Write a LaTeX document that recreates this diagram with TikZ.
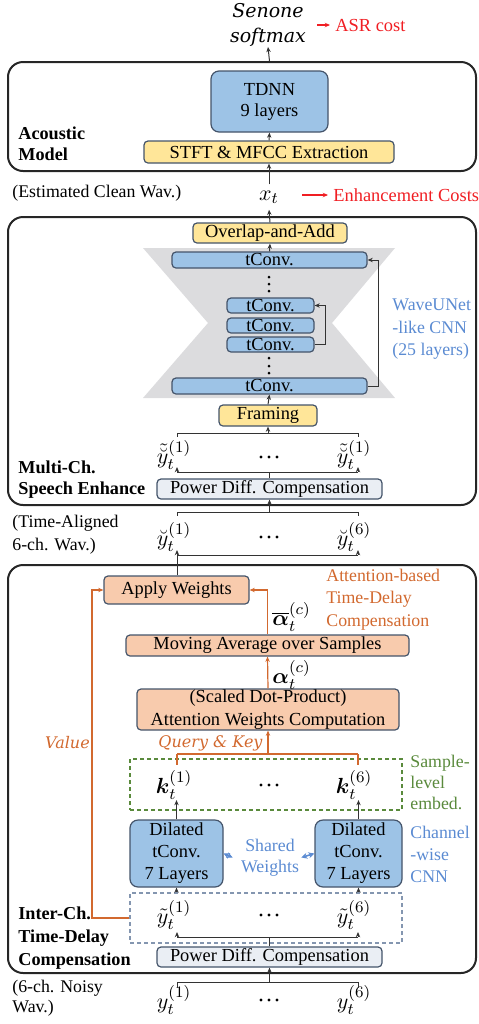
\documentclass[tikz,border=0pt]{standalone}
\usepackage{amsmath,amssymb}
\usepackage{fontspec}
\setmainfont{Liberation Serif}
\newfontfamily\mitfont{DejaVu Serif}
\usepackage{tikz}
\usetikzlibrary{arrows.meta,positioning,calc}
\definecolor{mblue}{HTML}{9DC3E6}
\definecolor{myellow}{HTML}{FFE699}
\definecolor{msalmon}{HTML}{F8CBAD}
\definecolor{mpale}{HTML}{EAEEF4}
\definecolor{mgray}{HTML}{DCDCDE}
\definecolor{medge}{HTML}{44546A}
\definecolor{mtblue}{HTML}{5B8BD2}
\definecolor{morange}{HTML}{D2692F}
\definecolor{mgreen}{HTML}{5A8A3C}
\definecolor{mred}{HTML}{F01E23}
\definecolor{mdash}{HTML}{8496B0}
\newcommand\fs{\fontsize{9.2}{11}\selectfont}
\tikzset{
  blk/.style={draw=medge,line width=0.6pt,rounded corners=2pt,align=center,font=\fs,inner sep=0pt},
  bluebox/.style={blk,fill=mblue},
  yelbox/.style={blk,fill=myellow},
  salbox/.style={blk,fill=msalmon},
  palebox/.style={blk,fill=mpale},
  region/.style={draw=black!85,line width=1pt,rounded corners=7.5pt,inner sep=0pt},
  embbox/.style={draw=#1,line width=0.6pt,dash pattern=on 2pt off 1.5pt,inner sep=0pt},
  wire/.style={line width=0.5pt,draw=black!80},
  arr/.style={-{Stealth[length=2.6pt,width=2.2pt]},line width=0.5pt,draw=black!80},
  owire/.style={line width=0.6pt,draw=morange},
  oarr/.style={-{Stealth[length=2.6pt,width=2.2pt]},line width=0.6pt,draw=morange},
  rarr/.style={-{Stealth[length=2.6pt,width=2.2pt]},line width=0.6pt,draw=mred,shorten >=2.5pt},
  barr/.style={{Stealth[length=3pt,width=3pt]}-{Stealth[length=3pt,width=3pt]},line width=0.8pt,draw=mtblue},
  sect/.style={anchor=west,align=left,font=\fontsize{9.1}{10.5}\selectfont\bfseries,inner sep=0pt},
  note/.style={anchor=west,align=left,font=\fontsize{8.9}{11.25}\selectfont,inner sep=0pt},
  ml/.style={font=\fontsize{11}{12}\selectfont,inner sep=0pt},
  mit/.style={font=\mitfont\itshape\fontsize{9.5}{12.5}\selectfont,inner sep=0pt,align=center},
}
\begin{document}
\begin{tikzpicture}[x=0.5pt,y=-0.5pt]
  \useasboundingbox (0,0) rectangle (478,1024);

  % three stages
  \node[region,minimum width=234pt,minimum height=54.5pt] (am) at (242,116.5) {};
  \node[region,minimum width=234pt,minimum height=144pt] (se) at (242,361) {};
  \node[region,minimum width=234pt,minimum height=204pt] (tdc) at (242,769) {};

  % acoustic model
  \node[mit] (senone) at (268,25) {Senone\\softmax};
  \node[anchor=west,font=\fs,text=mred,inner sep=0pt] (asr) at (335,25) {ASR cost};
  \coordinate (asrt) at (317,25);
  \draw[rarr] (asrt) -- (asr.west);
  \node[bluebox,rounded corners=4pt,minimum width=58.5pt,minimum height=30.5pt,font=\fontsize{9.2}{10.5}\selectfont] (tdnn) at (269.5,101.5) {TDNN\\9 layers};
  \node[yelbox,minimum width=125pt,minimum height=11pt] (stft) at (269,152) {STFT \& MFCC Extraction};
  \node[sect] at (18,143.5) {Acoustic\\Model};
  \draw[arr] (stft.north) -- (tdnn.south);
  \draw[arr] (tdnn.north |- am.north) -- (senone.south);

  % estimated clean signal
  \node[note] at (12,193) {(Estimated Clean Wav.)};
  \node[ml,inner sep=3pt] (xt) at (269,197) {$x_t$};
  \node[anchor=west,font=\fs,text=mred,inner sep=0pt] (enh) at (333,195) {Enhancement Costs};
  \coordinate (enht) at (302,195);
  \draw[rarr] (enht) -- (enh.west);
  \draw[arr] (xt.north) -- (stft.south);

  % speech enhancement
  \fill[mgray] (143,248) -- (395,248) -- (332,323) -- (395,398) -- (143,398) -- (208,323) -- cycle;
  \node[yelbox,minimum width=77pt,minimum height=10pt] (ola) at (270,233) {Overlap-and-Add};
  \node[bluebox,minimum width=97.5pt,minimum height=8pt] (tct) at (269.5,260) {tConv.};
  \node[bluebox,minimum width=43.5pt,minimum height=7.5pt] (tm1) at (270.5,305.5) {tConv.};
  \node[bluebox,minimum width=43.5pt,minimum height=7.5pt] (tm2) at (270.5,325.5) {tConv.};
  \node[bluebox,minimum width=43.5pt,minimum height=7.5pt] (tm3) at (270.5,344.5) {tConv.};
  \node[bluebox,minimum width=97.5pt,minimum height=8pt] (tcb) at (269.5,386) {tConv.};
  \foreach \dy in {277,284,291,358,366,373}
    \fill (269,\dy) circle (1.5);
  \coordinate (sk1) at (325,0);
  \coordinate (sk2) at (378,0);
  \draw[arr] (tm3.east) -- (tm3.east -| sk1) |- (tm1.east);
  \draw[arr] (tcb.east) -- (tcb.east -| sk2) |- (tct.east);
  \draw[arr] (tct.north) -- (ola.south);
  \draw[arr] (ola.north) -- (xt.south);
  \node[note,text=mtblue] at (392,329.5) {WaveUNet\\-like CNN\\(25 layers)};
  \node[yelbox,minimum width=49pt,minimum height=10.5pt] (framing) at (268,415.5) {Framing};
  \draw[arr] (framing.north) -- (tcb.south);
  \node[ml] (se1) at (174,455) {$\tilde{\breve{y}}_t^{(1)}$};
  \node[ml] (se6) at (354,455) {$\tilde{\breve{y}}_t^{(1)}$};
  \node[palebox,minimum width=112.5pt,minimum height=10pt] (pdc1) at (269.5,489) {Power Diff. Compensation};
  \node[sect] at (18,479.5) {Multi-Ch.\\Speech Enhance};

  % time-aligned signals
  \node[note,font=\fontsize{8.9}{11.5}\selectfont] at (12,534.5) {(Time-Aligned\\6-ch. Wav.)};
  \node[ml] (ta1) at (174,537) {$\breve{y}_t^{(1)}$};
  \node[ml] (ta6) at (354,537) {$\breve{y}_t^{(6)}$};

  % inter-channel time-delay compensation
  \node[salbox,minimum width=72.5pt,minimum height=14pt] (apply) at (176.5,590) {Apply Weights};
  \node[note,text=morange] at (326,599.5) {Attention-based\\Time-Delay\\Compensation};
  \node[salbox,minimum width=141.5pt,minimum height=10.5pt] (movavg) at (267.5,645.5) {Moving Average over Samples};
  \node[salbox,minimum width=131pt,minimum height=20.5pt,font=\fontsize{9.2}{11.5}\selectfont] (attn) at (268,709.5) {(Scaled Dot-Product)\\Attention Weights Computation};
  \node[ml,anchor=west] at (272,617) {$\overline{\boldsymbol{\alpha}}_t^{(c)}$};
  \node[ml,anchor=west] at (272,675) {$\boldsymbol{\alpha}_t^{(c)}$};
  \draw[oarr] (movavg.north) |- (apply.east);
  \draw[oarr] (attn.north) -- (movavg.south);
  \node[mit,text=morange,font=\mitfont\itshape\fontsize{8}{10}\selectfont] at (67.5,743) {Value};
  \node[mit,text=morange,font=\mitfont\itshape\fontsize{8}{10}\selectfont] at (210.5,743) {Query \& Key};
  \node[embbox=mgreen,minimum width=136pt,minimum height=25.5pt] (kbox) at (266,784.5) {};
  \node[ml] (k1) at (174,785) {$\boldsymbol{k}_t^{(1)}$};
  \node[ml] (k6) at (354,785) {$\boldsymbol{k}_t^{(6)}$};
  \node[note,text=mgreen,font=\fontsize{8.9}{10.5}\selectfont] at (410,782.5) {Sample-\\level\\embed.};
  \node[bluebox,rounded corners=4pt,minimum width=46.5pt,minimum height=33.5pt] (dill) at (176.5,853.5) {Dilated\\tConv.\\7 Layers};
  \node[bluebox,rounded corners=4pt,minimum width=43.5pt,minimum height=33.5pt] (dilr) at (358.5,853.5) {Dilated\\tConv.\\7 Layers};
  \node[align=center,font=\fontsize{8.9}{10.5}\selectfont,text=mtblue,inner sep=0pt] (shared) at (270,857.5) {Shared\\Weights};
  \draw[barr] (dill.east) -- ([xshift=-4pt]shared.west);
  \draw[barr] ([xshift=1pt]shared.east) -- (dilr.west);
  \node[note,text=mtblue,font=\fontsize{8.9}{11}\selectfont] at (410,854) {Channel\\-wise\\CNN};
  \draw[arr] (dill.north) -- (dill.north |- k1.south);
  \draw[arr] (dilr.north) -- (dilr.north |- k6.south);
  \node[embbox=mdash,minimum width=136pt,minimum height=25pt] (gbox) at (266,918) {};
  \node[ml] (g1) at (174,915) {$\tilde{y}_t^{(1)}$};
  \node[ml] (g6) at (354,915) {$\tilde{y}_t^{(6)}$};
  \draw[arr] (gbox.north -| dill.south) -- (dill.south);
  \draw[arr] (gbox.north -| dilr.south) -- (dilr.south);
  \coordinate (vc) at (92,700);
  \draw[oarr] (gbox.west) -| (vc) |- (apply.west);
  \node[palebox,minimum width=112.5pt,minimum height=10pt] (pdc2) at (269.5,957) {Power Diff. Compensation};
  \node[sect,font=\fontsize{9.1}{11.5}\selectfont\bfseries] at (18,938) {Inter-Ch.\\Time-Delay\\Compensation};

  % noisy input
  \node[note,font=\fontsize{8.9}{10}\selectfont] at (12,998) {(6-ch. Noisy\\Wav.)};
  \node[ml] (n1) at (174,1000) {$y_t^{(1)}$};
  \node[ml] (n6) at (354,1000) {$y_t^{(6)}$};

  % horizontal dots between channels
  \foreach \dy in {457,537,785,915,1000}
    \foreach \dx in {261,269,277}
      \fill (\dx,\dy) circle (1.6);

  % channel brackets: name / bar / leg end / leg style
  \foreach \n/\by/\ey/\st/\cl in {fa/433/437/wire/wire, pa/472/467/arr/wire, pb/512/516/wire/wire,
      ta/555/550/arr/wire, qk/754/765/owire/owire, ga/937/932/arr/wire, na/982/988/wire/wire} {
    \coordinate (\n-l) at (177,\by);
    \coordinate (\n-r) at (358,\by);
    \coordinate (\n-le) at (177,\ey);
    \coordinate (\n-re) at (358,\ey);
    \draw[\cl] (\n-l) -- (\n-r);
    \draw[\st] (\n-l) -- (\n-le);
    \draw[\st] (\n-r) -- (\n-re);
  }
  \draw[arr] (fa-l -| framing) -- (framing.south);
  \draw[wire] (pdc1.north) -- (pdc1.north |- pa-l);
  \draw[arr] (pb-l -| pdc1) -- (pdc1.south);
  \draw[wire] (apply.north -| ta-l) -- (ta-l);
  \draw[oarr] (qk-l -| attn) -- (attn.south);
  \draw[wire] (pdc2.north) -- (pdc2.north |- ga-l);
  \draw[arr] (na-l -| pdc2) -- (pdc2.south);
\end{tikzpicture}
\end{document}
